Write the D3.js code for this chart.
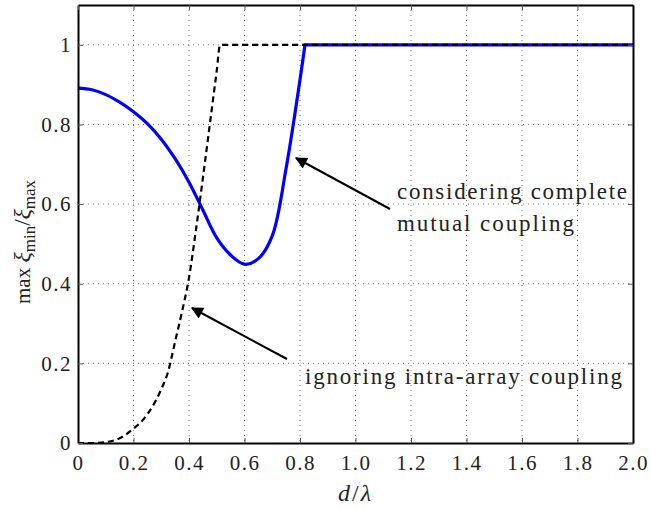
<!DOCTYPE html>
<html>
<head>
<meta charset="utf-8">
<script src="https://cdn.jsdelivr.net/npm/d3@7"></script>
<style>
  body { margin: 0; background: #fff; }
  text { font-family: "Liberation Serif", "DejaVu Serif", serif; fill: #222; }
</style>
</head>
<body>
<svg class="chart_svg" width="650" height="508"></svg>
<script>
// values
var dLambda = [0, 0.05, 0.1, 0.15, 0.2, 0.25, 0.3, 0.35, 0.4, 0.45, 0.5, 0.55, 0.6, 0.65, 0.7, 0.75, 0.8, 0.818, 1.0, 1.5, 2.0];
var coupled = [0.891, 0.887, 0.875, 0.856, 0.832, 0.802, 0.763, 0.714, 0.655, 0.585, 0.515, 0.472, 0.449, 0.463, 0.52, 0.69, 0.912, 1, 1, 1, 1];

var dIgnore = [0, 0.05, 0.1, 0.15, 0.2, 0.25, 0.3, 0.325, 0.35, 0.375, 0.4, 0.425, 0.45, 0.475, 0.5, 0.512, 1.0, 1.5, 2.0];
var ignoring = [0, 0, 0.002, 0.012, 0.036, 0.072, 0.135, 0.18, 0.255, 0.33, 0.415, 0.535, 0.665, 0.8, 0.935, 1, 1, 1, 1];

var xTicks = [0, 0.2, 0.4, 0.6, 0.8, 1.0, 1.2, 1.4, 1.6, 1.8, 2.0];
var yTicks = [0, 0.2, 0.4, 0.6, 0.8, 1];

var svg = d3.select(".chart_svg"),
    pLeft = 78, pRight = 633, pTop = 5, pBottom = 443;

var x = d3.scaleLinear().domain([0, 2]).range([pLeft, pRight]);
var y = d3.scaleLinear().domain([0, 1.1]).range([pBottom, pTop]);

// dotted grid
var grid = svg.append("g").attr("class", "grid");
grid.selectAll(".vgrid")
    .data(xTicks.slice(1, -1))
    .enter().append("line")
    .attr("x1", function (d) { return x(d); })
    .attr("x2", function (d) { return x(d); })
    .attr("y1", pTop)
    .attr("y2", pBottom)
    .attr("stroke", "#777")
    .attr("stroke-width", 1)
    .attr("stroke-dasharray", "1,4");
grid.selectAll(".hgrid")
    .data(yTicks.slice(1))
    .enter().append("line")
    .attr("x1", pLeft)
    .attr("x2", pRight)
    .attr("y1", function (d) { return y(d); })
    .attr("y2", function (d) { return y(d); })
    .attr("stroke", "#777")
    .attr("stroke-width", 1)
    .attr("stroke-dasharray", "1,4");

// curves
var pts1 = dLambda.map(function (d, i) { return [d, coupled[i]]; });
var kink = dLambda.indexOf(0.818);
var smooth = d3.line()
    .x(function (d) { return x(d[0]); })
    .y(function (d) { return y(d[1]); })
    .curve(d3.curveCatmullRom.alpha(0.5));
var straight = d3.line()
    .x(function (d) { return x(d[0]); })
    .y(function (d) { return y(d[1]); });
svg.append("path")
    .attr("d", smooth(pts1.slice(0, kink + 1)) + straight(pts1.slice(kink)).replace("M", "L"))
    .attr("fill", "none")
    .attr("stroke", "#0000ff")
    .attr("stroke-width", 3.2)
    .attr("stroke-linejoin", "round");

var pts2 = dIgnore.map(function (d, i) { return [d, ignoring[i]]; });
var line2 = d3.line()
    .x(function (d) { return x(d[0]); })
    .y(function (d) { return y(d[1]); })
    .curve(d3.curveMonotoneX);
svg.append("path")
    .attr("d", line2(pts2))
    .attr("fill", "none")
    .attr("stroke", "#000")
    .attr("stroke-width", 2.2)
    .attr("stroke-dasharray", "6,4");

// axes, ticks pointing inward
var fmtX = function (d) { return d === 0 ? "0" : d.toFixed(1); };
var fmtY = function (d) { return d3.format("~g")(d); };

var axB = svg.append("g")
    .attr("transform", "translate(0," + pBottom + ")")
    .call(d3.axisBottom(x).tickValues(xTicks).tickFormat(fmtX).tickSizeInner(-5).tickSizeOuter(0).tickPadding(12));
var axL = svg.append("g")
    .attr("transform", "translate(" + pLeft + ",0)")
    .call(d3.axisLeft(y).tickValues(yTicks).tickFormat(fmtY).tickSizeInner(-5).tickSizeOuter(0).tickPadding(6));
var axT = svg.append("g")
    .attr("transform", "translate(0," + pTop + ")")
    .call(d3.axisTop(x).tickValues(xTicks).tickFormat("").tickSizeInner(-5).tickSizeOuter(0));
var axR = svg.append("g")
    .attr("transform", "translate(" + pRight + ",0)")
    .call(d3.axisRight(y).tickValues(yTicks).tickFormat("").tickSizeInner(-5).tickSizeOuter(0));

[axB, axL, axT, axR].forEach(function (a) {
    a.selectAll(".domain").attr("stroke", "#000").attr("stroke-width", 2);
    a.selectAll(".tick line").attr("stroke", "#555");
    a.selectAll("text")
        .style("font-family", "'Liberation Serif', 'DejaVu Serif', serif")
        .style("font-size", "21px")
        .style("letter-spacing", "1.5px")
        .style("fill", "#222");
});
axB.selectAll("text").attr("dy", "0.71em");

// axis titles
var xl = svg.append("text")
    .attr("x", (pLeft + pRight) / 2)
    .attr("y", 501)
    .attr("text-anchor", "middle")
    .style("font-size", "24px")
    .style("letter-spacing", "2px");
xl.append("tspan").style("font-style", "italic").text("d");
xl.append("tspan").text("/");
xl.append("tspan").style("font-style", "italic").text("λ");

var yl = svg.append("text")
    .attr("transform", "translate(30,304) rotate(-90)")
    .attr("text-anchor", "start")
    .style("font-size", "21px");
yl.append("tspan").text("max ");
yl.append("tspan").style("font-style", "italic").style("font-size", "24px").text("ξ");
yl.append("tspan").attr("dy", 5).style("font-size", "17px").text("min");
yl.append("tspan").attr("dy", -5).style("font-size", "23px").text("/");
yl.append("tspan").style("font-style", "italic").style("font-size", "24px").text("ξ");
yl.append("tspan").attr("dy", 5).style("font-size", "17px").text("max");

// annotations
svg.append("defs").append("marker")
    .attr("id", "arrow")
    .attr("viewBox", "0 0 10 10")
    .attr("refX", 9)
    .attr("refY", 5)
    .attr("markerWidth", 14)
    .attr("markerHeight", 12)
    .attr("markerUnits", "userSpaceOnUse")
    .attr("orient", "auto")
    .append("path")
    .attr("d", "M0,0 L10,5 L0,10 z")
    .attr("fill", "#000");

function draw_arrow(x1, y1, x2, y2) {
    svg.append("line")
        .attr("x1", x1).attr("y1", y1)
        .attr("x2", x2).attr("y2", y2)
        .attr("stroke", "#000")
        .attr("stroke-width", 2)
        .attr("marker-end", "url(#arrow)");
}

draw_arrow(390, 209, 296, 158);
draw_arrow(287, 359, 192, 308);

function note(tx, ty, str, w) {
    svg.append("text")
        .attr("x", tx).attr("y", ty)
        .attr("textLength", w)
        .attr("lengthAdjust", "spacing")
        .style("font-size", "23px")
        .text(str);
}
note(397, 199, "considering complete", 230);
note(397, 231, "mutual coupling", 177);
note(305, 384, "ignoring intra-array coupling", 317);
</script>
</body>
</html>
